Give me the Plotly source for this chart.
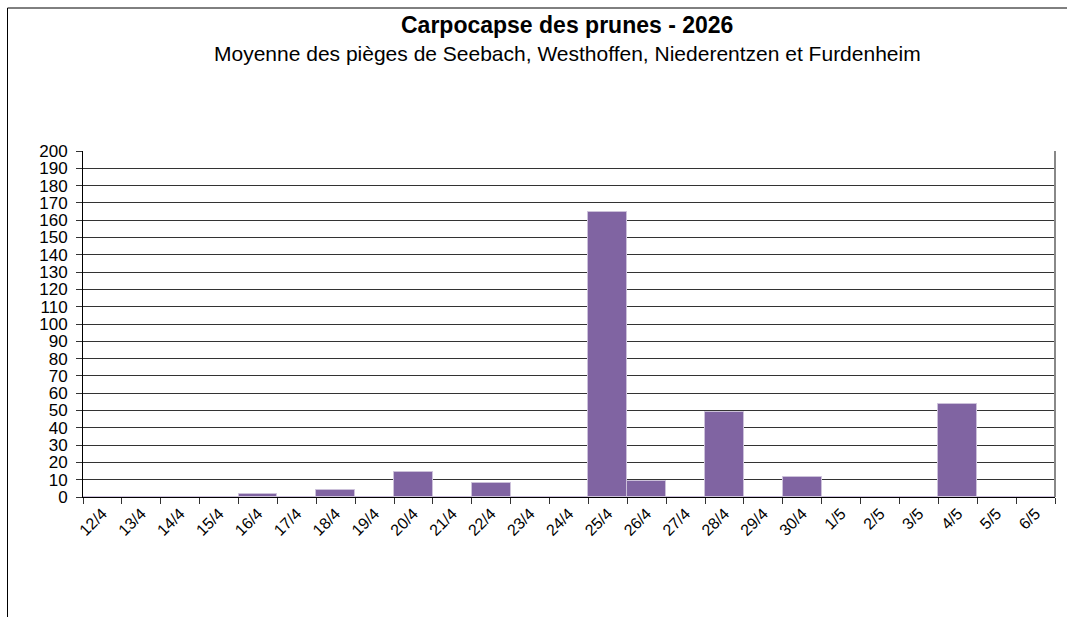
import plotly.graph_objects as go

dates = ["12/4", "13/4", "14/4", "15/4", "16/4", "17/4", "18/4", "19/4", "20/4",
         "21/4", "22/4", "23/4", "24/4", "25/4", "26/4", "27/4", "28/4", "29/4",
         "30/4", "1/5", "2/5", "3/5", "4/5", "5/5", "6/5"]
captures = [0, 0, 0, 0, 2, 0, 4, 0, 14.5, 0, 8, 0, 0, 165, 9, 0, 49, 0,
            11.5, 0, 0, 0, 53.5, 0, 0]
y_ticks = list(range(0, 201, 10))

title = "Carpocapse des prunes - 2026"
subtitle = "Moyenne des pièges de Seebach, Westhoffen, Niederentzen et Furdenheim"

W, H = 1067, 617
L, R, T, B = 83, 12, 151, 120
pw, ph = W - L - R, H - T - B

def px(x):
    return (x - L) / pw

def py(y):
    return (H - B - y) / ph

fig = go.Figure()
fig.add_trace(go.Bar(
    x=dates, y=captures,
    marker=dict(color="#8064A2", line=dict(color="#CCC1DA", width=1)),
))

font = "Liberation Sans, Arial, sans-serif"

fig.update_layout(
    width=W, height=H,
    margin=dict(l=L, r=R, t=T, b=B),
    paper_bgcolor="white", plot_bgcolor="white",
    bargap=0, showlegend=False,
    font=dict(family=font, color="black"),
    xaxis=dict(
        type="category", tickson="boundaries", ticks="outside", ticklen=6,
        tickcolor="#333", showline=True, linecolor="black", linewidth=1,
        showgrid=False, tickangle=-45, tickfont=dict(size=16, family=font),
        range=[-0.5, len(dates) - 0.5],
    ),
    yaxis=dict(
        range=[0, 200], tickvals=y_ticks, ticks="outside", ticklen=6,
        tickcolor="#333", showline=True, linecolor="black", linewidth=1,
        showgrid=True, gridcolor="#333", gridwidth=1,
        tickfont=dict(size=17, family=font), zeroline=False,
        ticklabelstandoff=5,
    ),
    shapes=[
        dict(type="line", xref="paper", yref="paper", x0=1, x1=1, y0=0, y1=1,
             line=dict(color="#888", width=2)),
        dict(type="line", xref="paper", yref="paper", x0=px(7.5), x1=px(7.5),
             y0=py(8), y1=py(620), line=dict(color="black", width=1)),
        dict(type="line", xref="paper", yref="paper", x0=px(7.5), x1=px(1070),
             y0=py(8), y1=py(8), line=dict(color="black", width=1)),
    ],
    annotations=[
        dict(text="<b>" + title + "</b>", xref="paper", yref="paper",
             x=px(567), y=py(25), showarrow=False, xanchor="center", yanchor="middle",
             font=dict(size=23, family=font)),
        dict(text=subtitle, xref="paper", yref="paper",
             x=px(567), y=py(53), showarrow=False, xanchor="center", yanchor="middle",
             font=dict(size=21, family=font)),
    ],
)

fig.write_html("out.html", config={"displayModeBar": False},
               post_script="document.body.style.margin='0';document.body.style.overflow='hidden';")
